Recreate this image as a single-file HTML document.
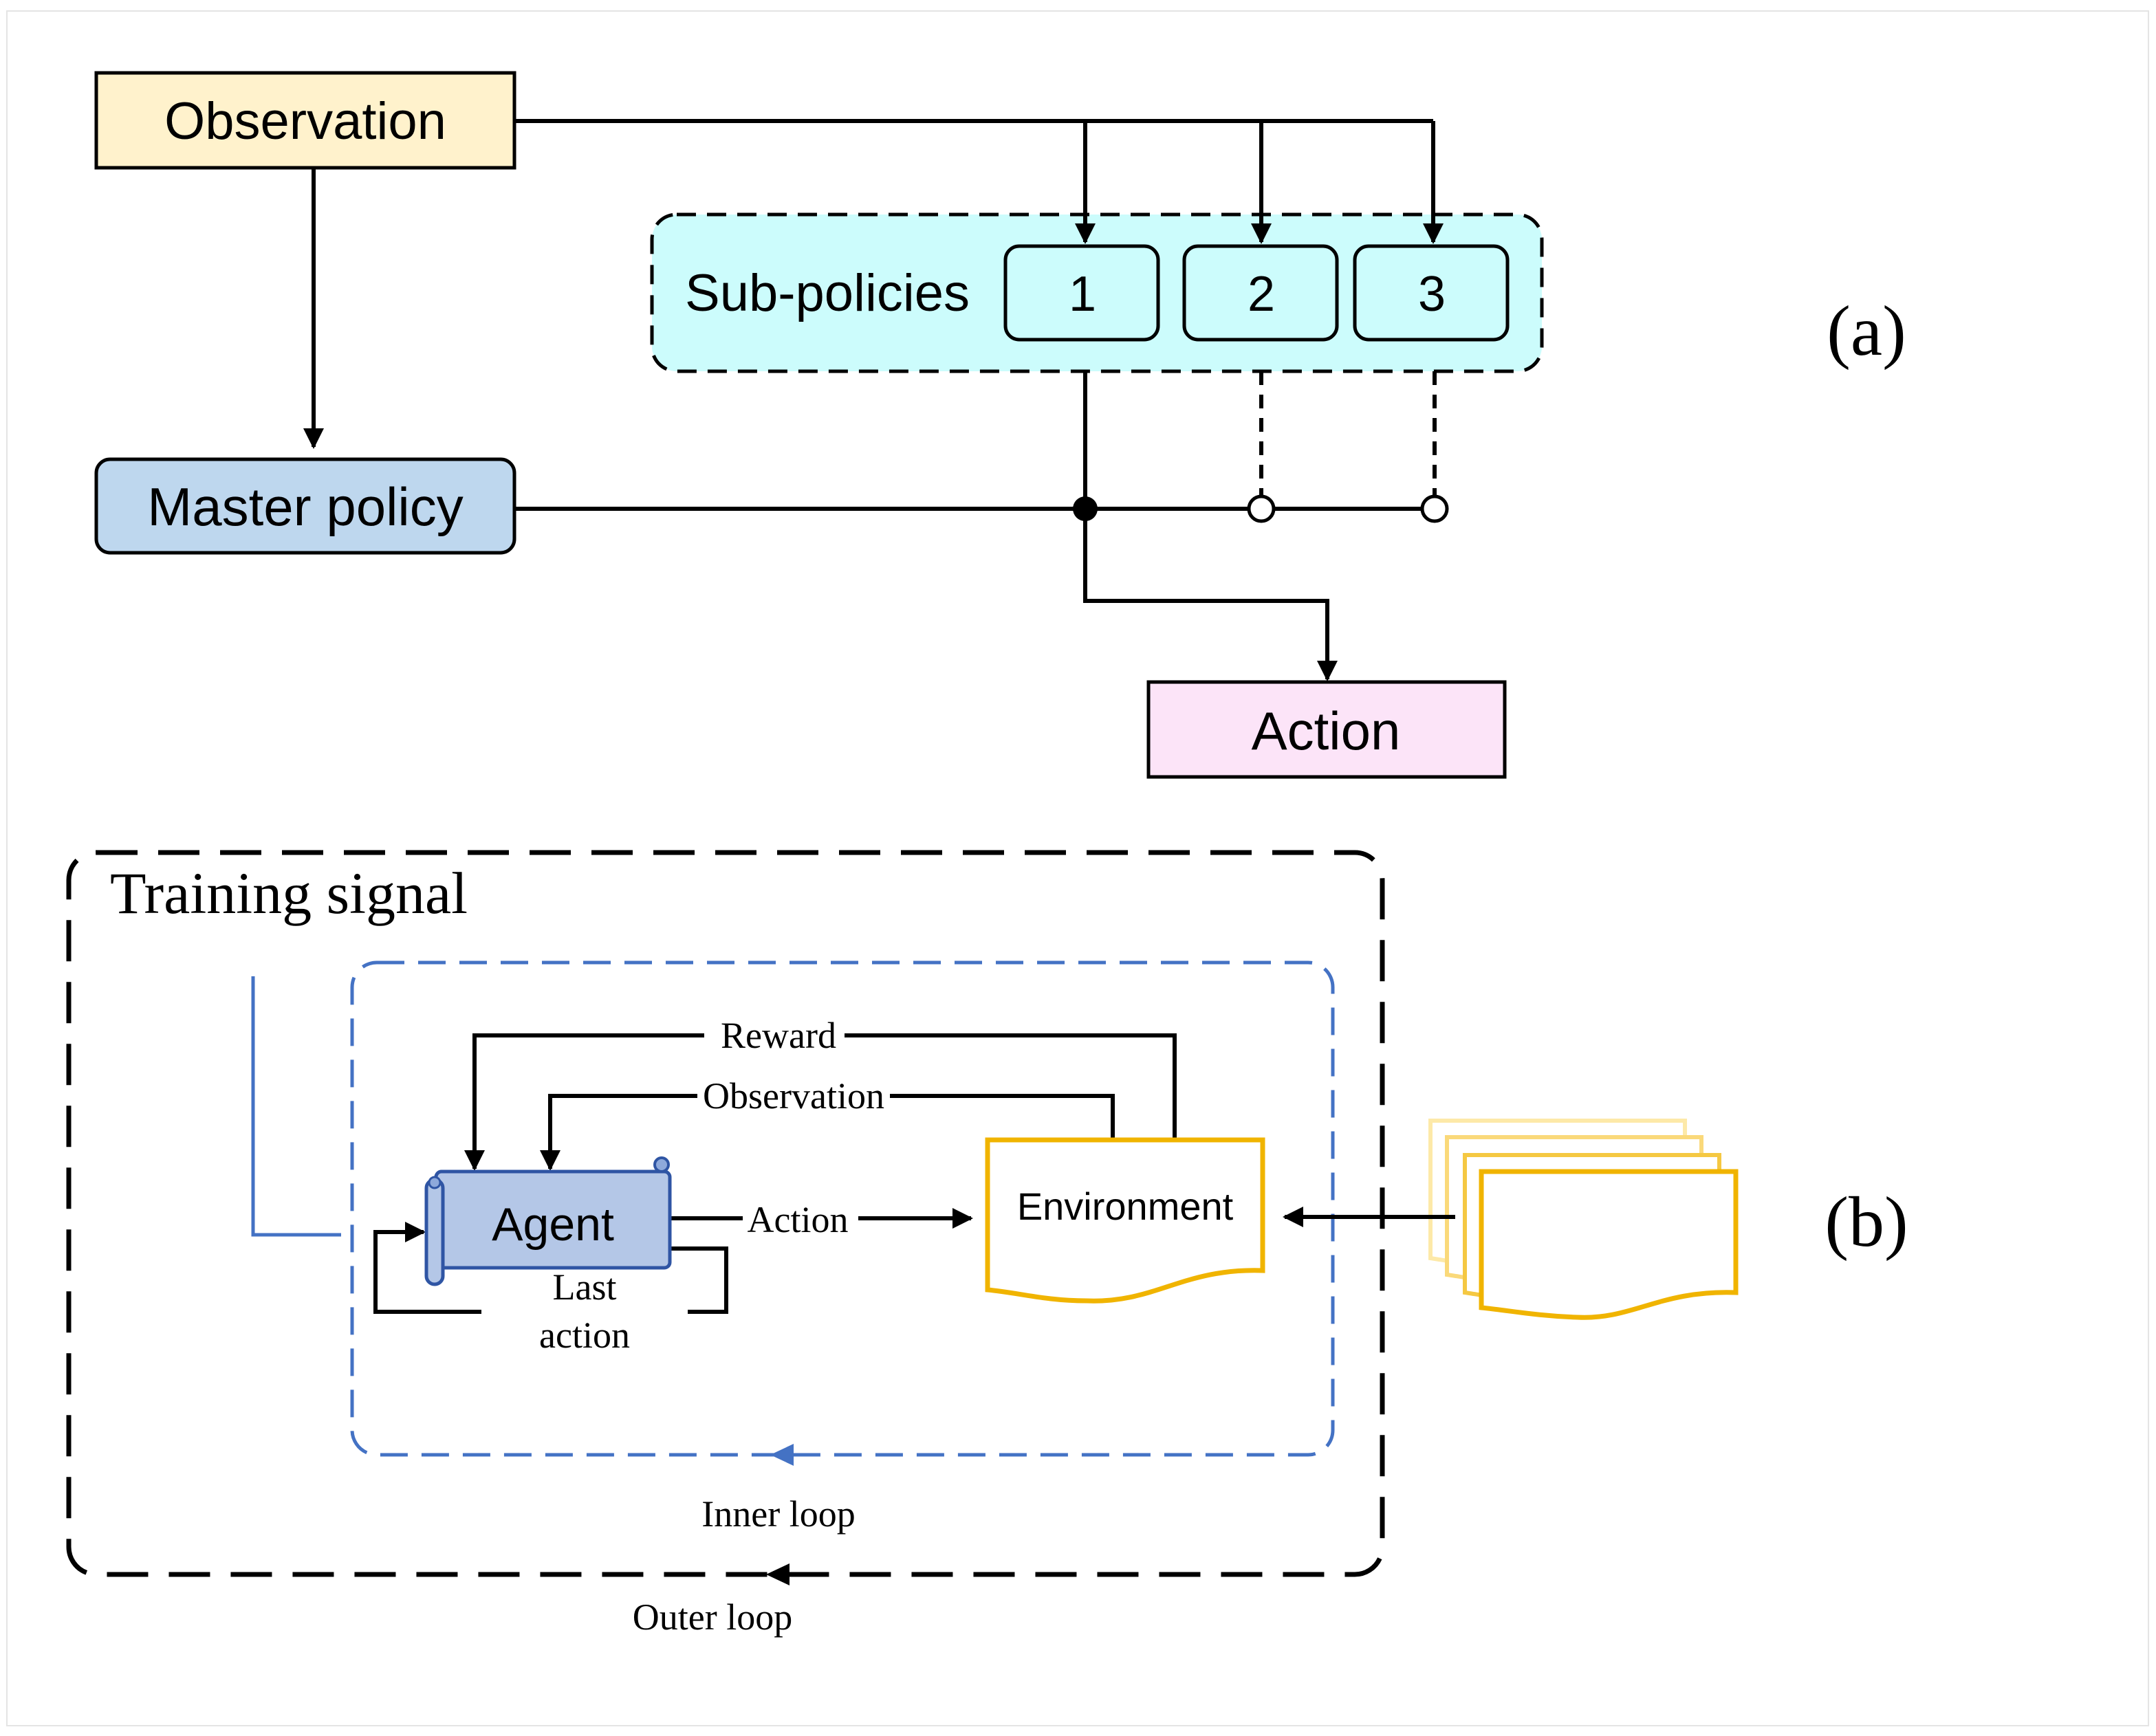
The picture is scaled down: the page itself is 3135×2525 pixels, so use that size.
<!DOCTYPE html>
<html><head><meta charset="utf-8"><style>html,body{margin:0;padding:0;background:#fff}svg{display:block}</style></head>
<body>
<svg width="3135" height="2525" viewBox="0 0 1567.5 1262.5" xmlns="http://www.w3.org/2000/svg">
<defs>
<marker id="ah" viewBox="0 0 10 10" refX="9" refY="5" markerWidth="5" markerHeight="5" orient="auto"><path d="M0,0 L10,5 L0,10 z" fill="#000"/></marker>
</defs>
<rect x="5" y="8" width="1557" height="1247" fill="#fff" stroke="#e4e4e4" stroke-width="1"/>
<g font-family="Liberation Sans, DejaVu Sans, sans-serif" fill="#000">
<!-- (a) -->
<path d="M374,88 H1042" stroke="#000" stroke-width="3" fill="none"/>
<path d="M228,122 V325" stroke="#000" stroke-width="3" marker-end="url(#ah)"/>
<rect x="70" y="53" width="304" height="69" fill="#fff2cc" stroke="#000" stroke-width="2.5"/>
<text x="222" y="101" font-size="38" text-anchor="middle">Observation</text>
<rect x="474" y="156" width="647" height="114" rx="18" fill="#ccfcfc" stroke="#000" stroke-width="2.5" stroke-dasharray="14,8"/>
<path d="M789,88 V176" stroke="#000" stroke-width="3" marker-end="url(#ah)"/>
<path d="M917,88 V176" stroke="#000" stroke-width="3" marker-end="url(#ah)"/>
<path d="M1042,88 V176" stroke="#000" stroke-width="3" marker-end="url(#ah)"/>
<text x="498" y="226" font-size="38">Sub-policies</text>
<rect x="731" y="179" width="111" height="68" rx="10" fill="#ccfcfc" stroke="#000" stroke-width="2.5"/>
<rect x="861" y="179" width="111" height="68" rx="10" fill="#ccfcfc" stroke="#000" stroke-width="2.5"/>
<rect x="985" y="179" width="111" height="68" rx="10" fill="#ccfcfc" stroke="#000" stroke-width="2.5"/>
<text x="787" y="226" font-size="36" text-anchor="middle">1</text>
<text x="917" y="226" font-size="36" text-anchor="middle">2</text>
<text x="1041" y="226" font-size="36" text-anchor="middle">3</text>
<path d="M789,270 V437 H965 V494" stroke="#000" stroke-width="3" fill="none" marker-end="url(#ah)"/>
<path d="M917,270 V361 M1043,270 V361" stroke="#000" stroke-width="3" stroke-dasharray="10,7" fill="none"/>
<path d="M374,370 H1034" stroke="#000" stroke-width="3"/>
<circle cx="789" cy="370" r="9" fill="#000"/>
<circle cx="917" cy="370" r="9" fill="#fff" stroke="#000" stroke-width="2.5"/>
<circle cx="1043" cy="370" r="9" fill="#fff" stroke="#000" stroke-width="2.5"/>
<rect x="70" y="334" width="304" height="68" rx="10" fill="#bed7ee" stroke="#000" stroke-width="2.5"/>
<text x="222" y="382" font-size="39" text-anchor="middle">Master policy</text>
<rect x="835" y="496" width="259" height="69" fill="#fce4f8" stroke="#000" stroke-width="2.5"/>
<text x="964" y="545" font-size="39" text-anchor="middle">Action</text>
<text x="1357" y="258" font-size="52" text-anchor="middle" font-family="Liberation Serif, serif">(a)</text>
<!-- (b) -->
<rect x="50" y="620" width="955" height="525" rx="20" fill="none" stroke="#000" stroke-width="3.5" stroke-dasharray="30,15"/>
<text x="80" y="664" font-size="43" font-family="Liberation Serif, serif">Training signal</text>
<rect x="256" y="700" width="713" height="358" rx="18" fill="none" stroke="#4472c4" stroke-width="2.5" stroke-dasharray="20,10"/>
<path d="M184,710 V898 H248" stroke="#4472c4" stroke-width="2.5" fill="none"/>
<path d="M560,1058 L577,1050 L577,1066 z" fill="#4472c4"/>
<path d="M557,1145 L574,1137 L574,1153 z" fill="#000"/>
<text x="566" y="1110" font-size="27" text-anchor="middle" font-family="Liberation Serif, serif">Inner loop</text>
<text x="518" y="1185" font-size="27" text-anchor="middle" font-family="Liberation Serif, serif">Outer loop</text>
<path d="M854,828 V753 H345 V850" stroke="#000" stroke-width="3" fill="none" marker-end="url(#ah)"/>
<path d="M809,828 V797 H400 V850" stroke="#000" stroke-width="3" fill="none" marker-end="url(#ah)"/>
<rect x="512" y="740" width="102" height="26" fill="#fff"/>
<text x="566" y="762" font-size="27" text-anchor="middle" font-family="Liberation Serif, serif">Reward</text>
<rect x="507" y="784" width="140" height="26" fill="#fff"/>
<text x="577" y="806" font-size="27" text-anchor="middle" font-family="Liberation Serif, serif">Observation</text>
<path d="M487,886 H706" stroke="#000" stroke-width="3" marker-end="url(#ah)"/>
<rect x="540" y="872" width="84" height="28" fill="#fff"/>
<text x="580" y="896" font-size="27" text-anchor="middle" font-family="Liberation Serif, serif">Action</text>
<path d="M487,908 H528 V954 H273 V896 H308" stroke="#000" stroke-width="3" fill="none" marker-end="url(#ah)"/>
<rect x="350" y="940" width="150" height="26" fill="#fff"/>
<text x="425" y="945" font-size="27" text-anchor="middle" font-family="Liberation Serif, serif">Last</text>
<text x="425" y="980" font-size="27" text-anchor="middle" font-family="Liberation Serif, serif">action</text>
<rect x="317" y="852" width="170" height="70" rx="4" fill="#b4c7e7" stroke="#2f55a4" stroke-width="2.5"/>
<rect x="310" y="858" width="12" height="76" rx="6" fill="#b4c7e7" stroke="#2f55a4" stroke-width="2.5"/>
<circle cx="316" cy="860" r="4" fill="#8ea9db" stroke="#2f55a4" stroke-width="1.5"/>
<circle cx="481" cy="847" r="5" fill="#8ea9db" stroke="#2f55a4" stroke-width="2"/>
<text x="402" y="902" font-size="34" text-anchor="middle">Agent</text>
<path d="M718,829 H918 V924 C860,922 840,948 790,946 C760,946 740,940 718,938 Z" fill="#fff" stroke="#f0b400" stroke-width="3.5"/>
<text x="818" y="887" font-size="28" text-anchor="middle">Environment</text>
<path d="M1040,815 H1225 V905 C1170,903 1150,925 1110,923 C1080,922 1060,918 1040,915 Z" fill="#fff" stroke="#fde9a8" stroke-width="3"/>
<path d="M1052,827 H1237 V917 C1182,915 1162,937 1122,935 C1092,934 1072,930 1052,927 Z" fill="#fff" stroke="#fad97a" stroke-width="3"/>
<path d="M1065,840 H1250 V930 C1195,928 1175,950 1135,948 C1105,947 1085,943 1065,940 Z" fill="#fff" stroke="#f5c842" stroke-width="3"/>
<path d="M1077,852 H1262 V940 C1207,938 1187,960 1147,958 C1117,957 1097,953 1077,951 Z" fill="#fff" stroke="#f0b400" stroke-width="3.5"/>
<path d="M1058,885 H934" stroke="#000" stroke-width="3" marker-end="url(#ah)"/>
<text x="1357" y="906" font-size="52" text-anchor="middle" font-family="Liberation Serif, serif">(b)</text>
</g>
</svg>
</body></html>
